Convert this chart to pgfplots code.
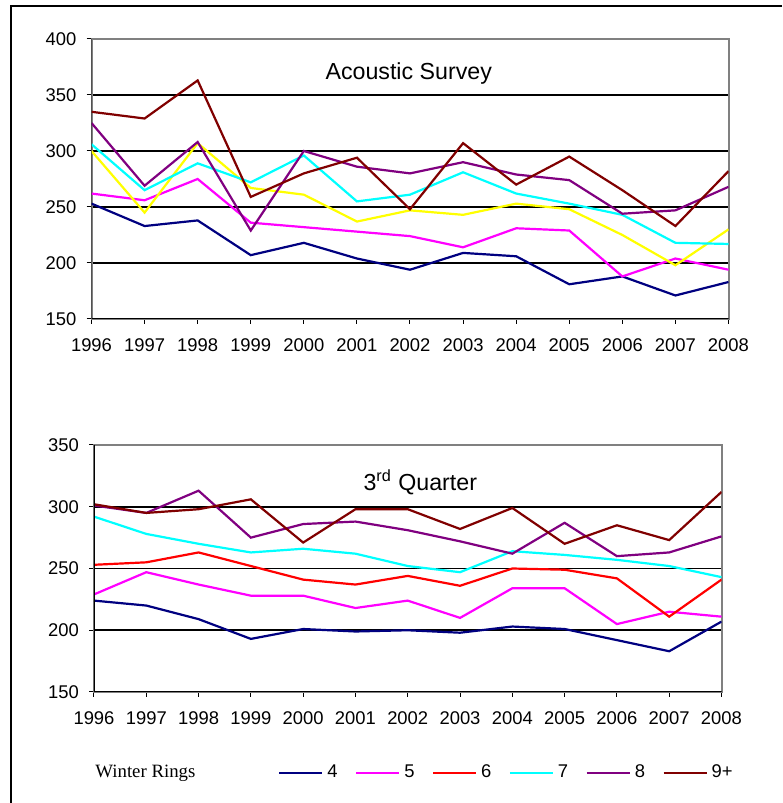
\documentclass[border=0pt]{standalone}
\usepackage{fontspec}
\setmainfont{Liberation Sans}
\newfontfamily\timesfont{Liberation Serif}
\usepackage{pgfplots}
\pgfplotsset{compat=1.18}
\definecolor{cNavy}{RGB}{0,0,128}
\definecolor{cMag}{RGB}{255,0,255}
\definecolor{cRed}{RGB}{255,0,0}
\definecolor{cCyan}{RGB}{0,255,255}
\definecolor{cPurple}{RGB}{128,0,128}
\definecolor{cDark}{RGB}{128,0,0}
\definecolor{cYellow}{RGB}{255,255,0}
\definecolor{cGray}{RGB}{128,128,128}
\pgfplotsset{panel/.style={
  scale only axis, anchor=south west,
  xmin=1996, xmax=2008, xtick={1996,...,2008},
  tick align=outside, xtick pos=left, ytick pos=left,
  major tick length=2.5pt,
  tick style={black, line width=0.5pt},
  ymajorgrids, major grid style={black, line width=0.9pt},
  axis line style={draw=cGray, line width=1pt},
  /pgf/number format/assume math mode=true,
  /pgf/number format/1000 sep={},
  ticklabel style={font=\fontsize{9.2}{11}\selectfont},
  yticklabel style={xshift=-1.5pt},
  xticklabel style={yshift=-4pt},
  every axis plot/.append style={line width=1.1pt, mark=none},
}}
\begin{document}
\begin{tikzpicture}
\path[use as bounding box] (0,0) rectangle (391pt,401.5pt);
\draw[line width=1pt] (391pt,398.5pt) -- (5.5pt,398.5pt) -- (5.5pt,0pt);
% ---------- top panel
\begin{axis}[panel, at={(45.75pt,242pt)}, width=318.5pt, height=140pt,
  ymin=150, ymax=400, ytick={150,200,...,400}]
\addplot[cNavy] coordinates {(1996,253)(1997,233)(1998,238)(1999,207)(2000,218)(2001,204)(2002,194)(2003,209)(2004,206)(2005,181)(2006,188)(2007,171)(2008,183)};
\addplot[cMag] coordinates {(1996,262)(1997,256)(1998,275)(1999,236)(2000,232)(2001,228)(2002,224)(2003,214)(2004,231)(2005,229)(2006,188)(2007,204)(2008,194)};
\addplot[cYellow] coordinates {(1996,300)(1997,245)(1998,307)(1999,267)(2000,261)(2001,237)(2002,247)(2003,243)(2004,253)(2005,248)(2006,225)(2007,198)(2008,230)};
\addplot[cCyan] coordinates {(1996,306)(1997,265)(1998,289)(1999,272)(2000,296)(2001,255)(2002,261)(2003,281)(2004,262)(2005,253)(2006,243)(2007,218)(2008,217)};
\addplot[cPurple] coordinates {(1996,325)(1997,269)(1998,308)(1999,229)(2000,300)(2001,286)(2002,280)(2003,290)(2004,279)(2005,274)(2006,244)(2007,247)(2008,268)};
\addplot[cDark] coordinates {(1996,335)(1997,329)(1998,363)(1999,259)(2000,280)(2001,294)(2002,248)(2003,307)(2004,270)(2005,295)(2006,265)(2007,233)(2008,282)};
\draw[black, line width=0.6pt] (rel axis cs:0,1) -- (rel axis cs:0,0) -- (rel axis cs:1,0);
\node[font=\fontsize{11.6}{14}\selectfont] at (rel axis cs:0.498,0.875) {Acoustic Survey};
\end{axis}
% ---------- bottom panel
\begin{axis}[panel, at={(47pt,55.5pt)}, width=313.75pt, height=123.5pt,
  ymin=150, ymax=350, ytick={150,200,...,350},
  legend columns=6,
  legend style={at={(rel axis cs:0.293,-0.328)}, anchor=west, draw=none, fill=none,
    inner sep=0pt, column sep=0pt,
    font=\fontsize{9.2}{11}\selectfont,
    /tikz/every even column/.append style={column sep=6.7pt}},
  legend cell align=left,
  legend image code/.code={\draw[#1] (0pt,0pt) -- (21.5pt,0pt);},
  legend style={nodes={inner xsep=2pt}}]
\addplot[cNavy] coordinates {(1996,224)(1997,220)(1998,209)(1999,193)(2000,201)(2001,199)(2002,200)(2003,198)(2004,203)(2005,201)(2006,192)(2007,183)(2008,207)};
\addplot[cMag] coordinates {(1996,229)(1997,247)(1998,237)(1999,228)(2000,228)(2001,218)(2002,224)(2003,210)(2004,234)(2005,234)(2006,205)(2007,215)(2008,211)};
\addplot[cRed] coordinates {(1996,253)(1997,255)(1998,263)(1999,252)(2000,241)(2001,237)(2002,244)(2003,236)(2004,250)(2005,249)(2006,242)(2007,211)(2008,241)};
\addplot[cCyan] coordinates {(1996,292)(1997,278)(1998,270)(1999,263)(2000,266)(2001,262)(2002,252)(2003,247)(2004,264)(2005,261)(2006,257)(2007,252)(2008,243)};
\addplot[cPurple] coordinates {(1996,301)(1997,295)(1998,313)(1999,275)(2000,286)(2001,288)(2002,281)(2003,272)(2004,262)(2005,287)(2006,260)(2007,263)(2008,276)};
\addplot[cDark] coordinates {(1996,302)(1997,295)(1998,298)(1999,306)(2000,271)(2001,298)(2002,298)(2003,282)(2004,299)(2005,270)(2006,285)(2007,273)(2008,312)};
\legend{4,5,6,7,8,9+}
\draw[black, line width=0.6pt] (rel axis cs:0,1) -- (rel axis cs:0,0) -- (rel axis cs:1,0);
\node[font=\fontsize{11.6}{14}\selectfont] at (rel axis cs:0.52,0.85) {3\textsuperscript{rd} Quarter};
\end{axis}
\node[anchor=west, inner sep=0pt, font=\timesfont\fontsize{9.4}{11}\selectfont] at (47.5pt,15pt) {Winter Rings};
\end{tikzpicture}
\end{document}
